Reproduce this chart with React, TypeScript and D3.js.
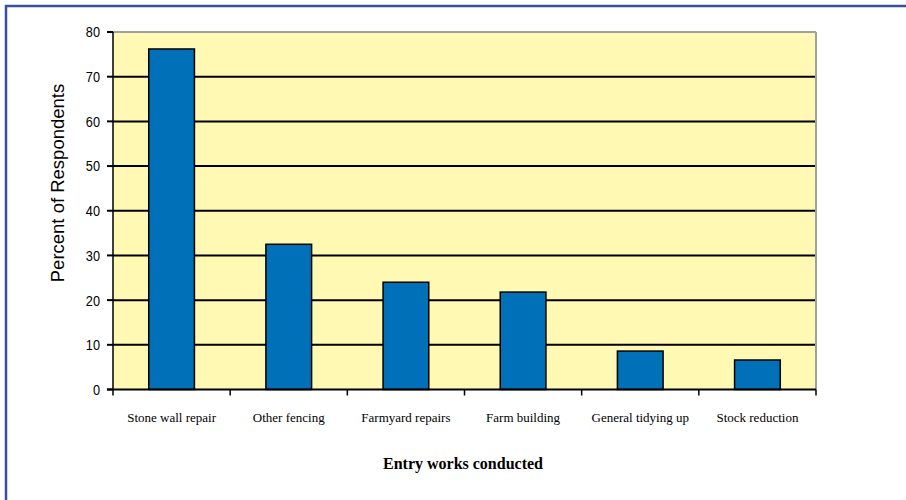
import React from "react";
import * as d3 from "d3";

const categories = ["Stone wall repair", "Other fencing", "Farmyard repairs", "Farm building", "General tidying up", "Stock reduction"];
const values = [76.2, 32.5, 24, 21.8, 8.6, 6.6];
const yTicks = [0, 10, 20, 30, 40, 50, 60, 70, 80];
const xTitle = "Entry works conducted";
const yTitle = "Percent of Respondents";

export default function App() {
  const W = 906, H = 500;
  const left = 113, right = 816, top = 32, bottom = 389.5;
  const x = d3.scaleBand<string>().domain(categories).range([left, right]).paddingInner(0).paddingOuter(0);
  const y = d3.scaleLinear().domain([0, 80]).range([bottom, top]);
  const bw = x.bandwidth() * 0.39;
  return (
    <svg width={W} height={H} style={{ position: "absolute", left: 0, top: 0 }}>
      <rect x={0} y={0} width={W} height={H} fill="#fff" />
      <rect x={6} y={6} width={W + 10} height={H + 10} fill="none" stroke="#3a4f9c" strokeWidth={2.5} />
      <rect x={left} y={top} width={right - left} height={bottom - top} fill="#fff9b3" />
      {yTicks.filter(t => t > 0 && t < 80).map(t => (
        <line key={t} x1={left} x2={right} y1={y(t)} y2={y(t)} stroke="#000" strokeWidth={2} />
      ))}
      <line x1={left} x2={right} y1={top} y2={top} stroke="#a0a0a0" strokeWidth={2} />
      <line x1={right} x2={right} y1={top} y2={bottom} stroke="#a0a0a0" strokeWidth={2} />
      {categories.map((c, i) => (
        <rect key={c} x={x(c)! + x.bandwidth() / 2 - bw / 2} y={y(values[i])} width={bw} height={bottom - y(values[i])}
          fill="#0070b8" stroke="#000" strokeWidth={1.5} />
      ))}
      <line x1={left} x2={left} y1={top} y2={bottom} stroke="#000" strokeWidth={1.5} />
      <line x1={left - 6} x2={right} y1={bottom} y2={bottom} stroke="#000" strokeWidth={2} />
      {yTicks.map(t => (
        <g key={t}>
          <line x1={left - 6} x2={left} y1={y(t)} y2={y(t)} stroke="#000" strokeWidth={2} />
          <text transform={`translate(${left - 13}, ${y(t)}) scale(0.85,1)`} dy="0.36em" textAnchor="end" fontFamily="Liberation Sans, Arial" fontSize={15} fill="#000">{t}</text>
        </g>
      ))}
      {[...categories.map(c => x(c)!), right].map((px, i) => (
        <line key={i} x1={px} x2={px} y1={bottom} y2={bottom + 6} stroke="#000" strokeWidth={1.5} />
      ))}
      {categories.map(c => (
        <text key={c} x={x(c)! + x.bandwidth() / 2} y={422} textAnchor="middle" fontFamily="Liberation Serif, Times New Roman" fontSize={13} fill="#000">{c}</text>
      ))}
      <text x={463} y={469} textAnchor="middle" fontFamily="Liberation Serif, Times New Roman" fontWeight="bold" fontSize={16} fill="#000">{xTitle}</text>
      <text transform={`translate(64, 183) rotate(-90)`} textAnchor="middle" fontFamily="Liberation Sans, Arial" fontSize={18.5} fill="#000">{yTitle}</text>
    </svg>
  );
}
